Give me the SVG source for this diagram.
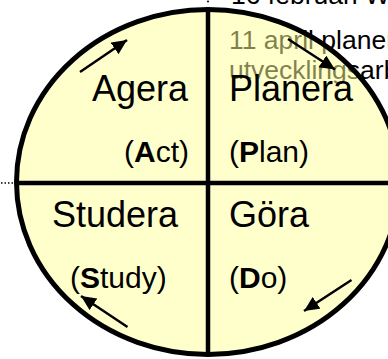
<svg xmlns="http://www.w3.org/2000/svg" width="388" height="359" viewBox="0 0 388 359">
  <defs>
    <style>
      .t { font-family: "Liberation Sans", Arial, sans-serif; fill: #000; }
      .note { font-size: 26.5px; }
      .big { font-size: 36px; }
      .small { font-size: 30px; }
      .b { font-weight: bold; }
      .div { stroke: #000; stroke-width: 4.5; fill: none; }
      .arr { stroke: #000; stroke-width: 2.5; fill: none; marker-end: url(#ah); }
    </style>
    <marker id="ah" markerUnits="userSpaceOnUse" markerWidth="17" markerHeight="15" refX="15" refY="7" orient="auto">
      <path d="M0,0 L15,7 L0,14 Z" fill="#000"/>
    </marker>
  </defs>
  <rect width="388" height="359" fill="#fff"/>

  <g id="background-notes">
    <text class="t note" x="231" y="3.5">16 februari  W</text>
    <text class="t note" x="229" y="49">11 april planer</text>
    <text class="t note" x="229" y="79">utvecklingsarb</text>
    <circle cx="208" cy="1.5" r="1" fill="#000"/>
    <path d="M1,183 H14" stroke="#000" stroke-width="1.5" stroke-dasharray="1.5 2"/>
  </g>

  <g id="cycle">
    <ellipse cx="208" cy="182" rx="191.5" ry="172.5" fill="#FFFF99" fill-opacity="0.5" stroke="#000" stroke-width="5"/>
    <path class="div" d="M208,9.5 V354.5"/>
    <path class="div" d="M16,183 H400"/>
  </g>

  <g id="agera">
    <text class="t big" x="92" y="101">Agera</text>
    <text class="t small" x="124" y="162">(<tspan class="b">A</tspan>ct)</text>
  </g>
  <g id="planera">
    <text class="t big" x="229" y="101">Planera</text>
    <text class="t small" x="229" y="162">(<tspan class="b">P</tspan>lan)</text>
  </g>
  <g id="studera">
    <text class="t big" x="52" y="227">Studera</text>
    <text class="t small" x="70" y="288">(<tspan class="b">S</tspan>tudy)</text>
  </g>
  <g id="gora">
    <text class="t big" x="229" y="227">Göra</text>
    <text class="t small" x="229" y="288">(<tspan class="b">D</tspan>o)</text>
  </g>

  <g id="connectors">
    <path class="arr" d="M80,72 L127,40"/>
    <path class="arr" d="M288,39 L335,69.5"/>
    <path class="arr" d="M351.5,280 L304,311"/>
    <path class="arr" d="M127.5,327 L81,296"/>
  </g>
</svg>
